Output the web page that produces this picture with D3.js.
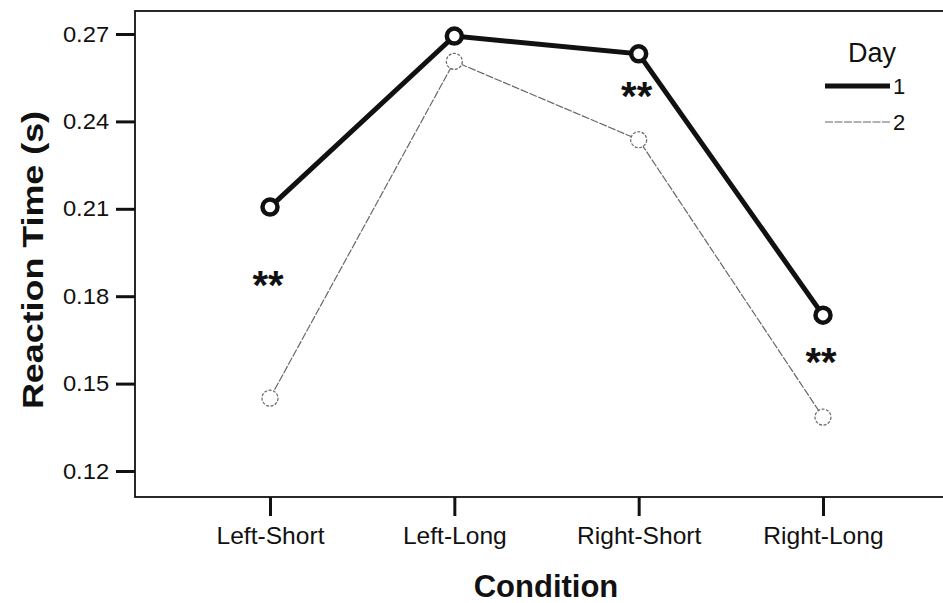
<!DOCTYPE html>
<html>
<head>
<meta charset="utf-8">
<script src="https://cdn.jsdelivr.net/npm/d3@7"></script>
<style>
  body { margin: 0; background: #fff; }
  svg text { font-family: "Liberation Sans", Arial, sans-serif; fill: #111; }
</style>
</head>
<body>
<svg id="chart" width="943" height="603"></svg>
<script>
// chart data
var conditions = ["Left-Short", "Left-Long", "Right-Short", "Right-Long"];
var day1 = [0.2106, 0.2693, 0.2632, 0.1735];
var day2 = [0.1450, 0.2606, 0.2337, 0.1385];
var yTicks = [0.12, 0.15, 0.18, 0.21, 0.24, 0.27];
var starAt = ["Left-Short", "Right-Short", "Right-Long"];
var starY = [0.1856, 0.2504, 0.1591];

var svg = d3.select('#chart');

var pLeft = 135, pTop = 11, pBottom = 497, pRight = 960;

var xScale = d3.scalePoint()
    .domain(conditions)
    .range([270, 823]);

var yScale = d3.scaleLinear()
    .domain([0.27, 0.12])
    .range([34, 471]);

// frame
svg.append('rect')
    .attr('x', pLeft).attr('y', pTop)
    .attr('width', pRight - pLeft).attr('height', pBottom - pTop)
    .attr('fill', 'none')
    .attr('stroke', '#111')
    .attr('stroke-width', 1.8);

// y axis
var yAxis = d3.axisLeft(yScale)
    .tickValues(yTicks)
    .tickFormat(d3.format('.2f'))
    .tickSize(19)
    .tickPadding(5);

var gy = svg.append('g')
    .attr('transform', 'translate(' + pLeft + ',0)')
    .call(yAxis);
gy.select('.domain').remove();
gy.selectAll('.tick line').attr('stroke', '#111').attr('stroke-width', 3);
gy.selectAll('.tick text')
    .style('font-size', '22px')
    .attr('transform', 'scale(1.08,1)');

// x axis
var xAxis = d3.axisBottom(xScale)
    .tickSize(19)
    .tickPadding(12);

var gx = svg.append('g')
    .attr('transform', 'translate(0,' + pBottom + ')')
    .call(xAxis);
gx.select('.domain').remove();
gx.selectAll('.tick line').attr('stroke', '#111').attr('stroke-width', 3);
gx.selectAll('.tick text')
    .style('font-size', '23px')
    .attr('transform', 'scale(1.07,1)');

// axis titles
svg.append('text')
    .attr('transform', 'translate(43,260) rotate(-90)')
    .attr('text-anchor', 'middle')
    .style('font-size', '29px')
    .style('font-weight', 'bold')
    .attr('textLength', 298)
    .attr('lengthAdjust', 'spacingAndGlyphs')
    .text('Reaction Time (s)');

svg.append('text')
    .attr('x', 546).attr('y', 597)
    .attr('text-anchor', 'middle')
    .style('font-size', '31px')
    .style('font-weight', 'bold')
    .text('Condition');

// lines
var line = d3.line()
    .x(function(d, i) { return xScale(conditions[i]); })
    .y(function(d) { return yScale(d); });

svg.append('path')
    .datum(day2)
    .attr('d', line)
    .attr('fill', 'none')
    .attr('stroke', '#666')
    .attr('stroke-width', 1.2)
    .attr('stroke-dasharray', '8,1.5');

svg.append('path')
    .datum(day1)
    .attr('d', line)
    .attr('fill', 'none')
    .attr('stroke', '#111')
    .attr('stroke-width', 5);

svg.selectAll('.m2')
    .data(day2)
    .enter().append('circle')
    .attr('class', 'm2')
    .attr('cx', function(d, i) { return xScale(conditions[i]); })
    .attr('cy', function(d) { return yScale(d); })
    .attr('r', 8)
    .attr('fill', '#fff')
    .attr('stroke', '#666')
    .attr('stroke-width', 1.2)
    .attr('stroke-dasharray', '3,1.5');

svg.selectAll('.m1')
    .data(day1)
    .enter().append('circle')
    .attr('class', 'm1')
    .attr('cx', function(d, i) { return xScale(conditions[i]); })
    .attr('cy', function(d) { return yScale(d); })
    .attr('r', 7.5)
    .attr('fill', '#fff')
    .attr('stroke', '#111')
    .attr('stroke-width', 4.5);

// significance markers
svg.selectAll('.star')
    .data(starAt)
    .enter().append('text')
    .attr('class', 'star')
    .attr('x', function(d, i) { return xScale(d) - 2; })
    .attr('y', function(d, i) { return yScale(starY[i]) + 19; })
    .attr('text-anchor', 'middle')
    .style('font-size', '40px')
    .style('font-weight', 'bold')
    .text('**');

// legend
var lg = svg.append('g');
lg.append('text')
    .attr('x', 872).attr('y', 62)
    .attr('text-anchor', 'middle')
    .style('font-size', '27px')
    .text('Day');

var legItems = [
    {name: '1', color: '#111', width: 5, dash: null},
    {name: '2', color: '#666', width: 1.2, dash: '8,1.5'}
];
legItems.forEach(function(it, i) {
    var y = 86 + i * 36;
    lg.append('line')
        .attr('x1', 825).attr('x2', 890)
        .attr('y1', y).attr('y2', y)
        .attr('stroke', it.color)
        .attr('stroke-width', it.width)
        .attr('stroke-dasharray', it.dash);
    lg.append('text')
        .attr('x', 893).attr('y', y + 8)
        .style('font-size', '22px')
        .text(it.name);
});
</script>
</body>
</html>
